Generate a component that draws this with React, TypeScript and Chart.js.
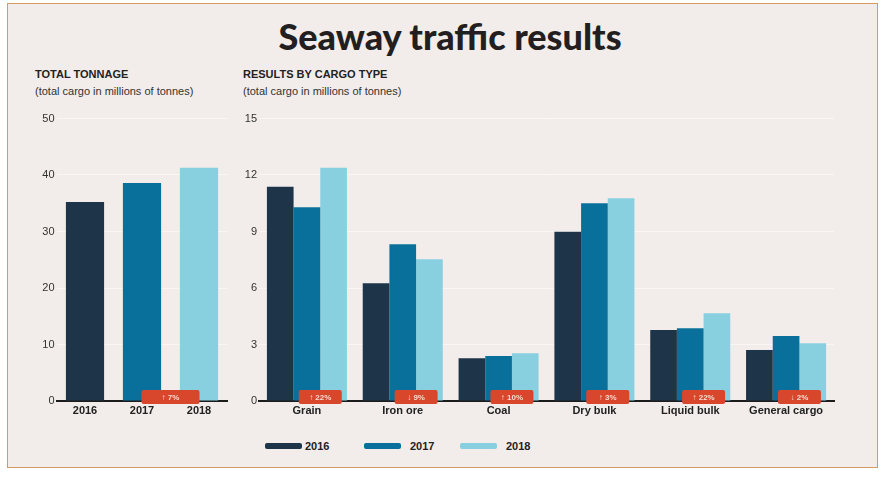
import React, { useEffect, useRef } from "react";
import { Chart, registerables } from "chart.js";
Chart.register(...registerables);

// ---- data ----
const years = ["2016", "2017", "2018"];
const totalTonnage = [35.2, 38.6, 41.3];
const totalTicks = [0, 10, 20, 30, 40, 50];
const totalChange = ["↑ 7%"];

const cargoTypes = ["Grain", "Iron ore", "Coal", "Dry bulk", "Liquid bulk", "General cargo"];
const cargo2016 = [11.38, 6.25, 2.27, 8.99, 3.77, 2.71];
const cargo2017 = [10.29, 8.32, 2.39, 10.5, 3.86, 3.45];
const cargo2018 = [12.39, 7.53, 2.53, 10.76, 4.66, 3.06];
const cargoChange = ["↑ 22%", "↓ 9%", "↑ 10%", "↑ 3%", "↑ 22%", "↓ 2%"];
const cargoTicks = [0, 3, 6, 9, 12, 15];

const COLORS = ["#1e3449", "#08709b", "#88cfdf"];
const SANS = "'Liberation Sans', Arial, sans-serif";
const BG = "#f2edea";

const badgePlugin = {
  id: "badges",
  afterDraw(chart: any, _args: any, opts: any) {
    const ctx = chart.ctx;
    const labels: string[] = opts.labels || [];
    const n = chart.data.datasets.length;
    const bottom = chart.chartArea.bottom;
    labels.forEach((txt, i) => {
      let xa: number, xb: number;
      if (n === 1) {
        const els = chart.getDatasetMeta(0).data;
        xa = els[1].x;
        xb = els[2].x;
      } else {
        xa = chart.getDatasetMeta(1).data[i].x;
        xb = chart.getDatasetMeta(2).data[i].x;
      }
      const cx = (xa + xb) / 2;
      const w = opts.width;
      const h = 14;
      const cy = bottom - 4;
      ctx.save();
      ctx.fillStyle = "#d8462c";
      ctx.beginPath();
      (ctx as any).roundRect(cx - w / 2, cy - h / 2, w, h, 2);
      ctx.fill();
      ctx.fillStyle = "#f7d9cf";
      ctx.font = "bold 8px " + SANS;
      ctx.textAlign = "center";
      ctx.textBaseline = "middle";
      ctx.fillText(txt, cx, cy + 0.5);
      ctx.restore();
    });
  },
};

function makeScales(ticks: number[], yWidth: number) {
  return {
    x: {
      grid: { display: false, drawTicks: false },
      border: { display: true, color: "#1c1c1c", width: 2 },
      ticks: {
        color: "#222",
        font: { family: SANS, size: 11, weight: "bold" as const },
        padding: 3,
        maxRotation: 0,
        autoSkip: false,
      },
      afterFit: (s: any) => {
        s.height = 19;
      },
    },
    y: {
      min: ticks[0],
      max: ticks[ticks.length - 1],
      afterBuildTicks: (s: any) => {
        s.ticks = ticks.map((v) => ({ value: v }));
      },
      grid: { color: "rgba(255,255,255,0.5)", drawTicks: false, lineWidth: 1 },
      border: { display: false },
      ticks: {
        color: "#333",
        font: { family: SANS, size: 11 },
        padding: 2,
      },
      afterFit: (s: any) => {
        s.width = yWidth;
      },
    },
  };
}

function LeftChart() {
  const ref = useRef<HTMLCanvasElement>(null);
  useEffect(() => {
    const chart = new Chart(ref.current!, {
      type: "bar",
      data: {
        labels: years,
        datasets: [
          {
            label: "Total",
            data: totalTonnage,
            backgroundColor: COLORS,
            barPercentage: 0.67,
            categoryPercentage: 1,
          },
        ],
      },
      options: {
        animation: false,
        responsive: false,
        maintainAspectRatio: false,
        layout: { padding: { top: 18.5, right: 12.5, left: 0, bottom: 0 } },
        plugins: {
          legend: { display: false },
          tooltip: { enabled: false },
          badges: { labels: totalChange, width: 58 },
        } as any,
        scales: makeScales(totalTicks, 36.5) as any,
      },
      plugins: [badgePlugin],
    });
    return () => chart.destroy();
  }, []);
  return (
    <canvas
      ref={ref}
      width={220}
      height={320}
      style={{ position: "absolute", left: 20, top: 100, width: 220, height: 320 }}
    />
  );
}

function RightChart() {
  const ref = useRef<HTMLCanvasElement>(null);
  useEffect(() => {
    const series = [cargo2016, cargo2017, cargo2018];
    const chart = new Chart(ref.current!, {
      type: "bar",
      data: {
        labels: cargoTypes,
        datasets: years.map((y, i) => ({
          label: y,
          data: series[i],
          backgroundColor: COLORS[i],
          barPercentage: 1,
          categoryPercentage: 0.835,
        })),
      },
      options: {
        animation: false,
        responsive: false,
        maintainAspectRatio: false,
        layout: { padding: { top: 18.5, right: 46, left: 0, bottom: 0 } },
        plugins: {
          legend: { display: false },
          tooltip: { enabled: false },
          badges: { labels: cargoChange, width: 43 },
        } as any,
        scales: makeScales(cargoTicks, 19) as any,
      },
      plugins: [badgePlugin],
    });
    return () => chart.destroy();
  }, []);
  return (
    <canvas
      ref={ref}
      width={640}
      height={320}
      style={{ position: "absolute", left: 240, top: 100, width: 640, height: 320 }}
    />
  );
}

const legendPos = [
  { sw: 265, tx: 305 },
  { sw: 364, tx: 410 },
  { sw: 460, tx: 506 },
];

export default function App() {
  const headStyle: React.CSSProperties = {
    position: "absolute",
    fontFamily: SANS,
    fontWeight: "bold",
    fontSize: 11,
    lineHeight: "13px",
    color: "#222",
    whiteSpace: "nowrap",
  };
  const subStyle: React.CSSProperties = {
    position: "absolute",
    fontFamily: SANS,
    fontSize: 11,
    lineHeight: "13px",
    color: "#333",
    whiteSpace: "nowrap",
  };
  return (
    <div
      style={{
        position: "absolute",
        left: 0,
        top: 0,
        width: 886,
        height: 479,
        background: "#ffffff",
        overflow: "hidden",
      }}
    >
      <div
        style={{
          position: "absolute",
          left: 7,
          top: 3,
          width: 871,
          height: 465,
          boxSizing: "border-box",
          border: "1px solid #d59a60",
          background: BG,
        }}
      />
      <div
        style={{
          position: "absolute",
          left: 10,
          width: 880,
          top: 16,
          textAlign: "center",
          fontFamily: "Lato, 'Open Sans', sans-serif",
          fontWeight: 900,
          fontSize: 36,
          lineHeight: "40px",
          color: "#231f20",
          whiteSpace: "nowrap",
        }}
      >
        Seaway traffic results
      </div>
      <div style={{ ...headStyle, left: 35, top: 68 }}>TOTAL TONNAGE</div>
      <div style={{ ...subStyle, left: 35, top: 85 }}>(total cargo in millions of tonnes)</div>
      <div style={{ ...headStyle, left: 243, top: 68 }}>RESULTS BY CARGO TYPE</div>
      <div style={{ ...subStyle, left: 243, top: 85 }}>(total cargo in millions of tonnes)</div>
      <LeftChart />
      <RightChart />
      {years.map((y, i) => (
        <React.Fragment key={y}>
          <div
            style={{
              position: "absolute",
              left: legendPos[i].sw,
              top: 443,
              width: 37,
              height: 6,
              borderRadius: 2,
              background: COLORS[i],
            }}
          />
          <div
            style={{
              position: "absolute",
              left: legendPos[i].tx,
              top: 439,
              fontFamily: SANS,
              fontWeight: "bold",
              fontSize: 11,
              lineHeight: "14px",
              color: "#222",
            }}
          >
            {y}
          </div>
        </React.Fragment>
      ))}
    </div>
  );
}
